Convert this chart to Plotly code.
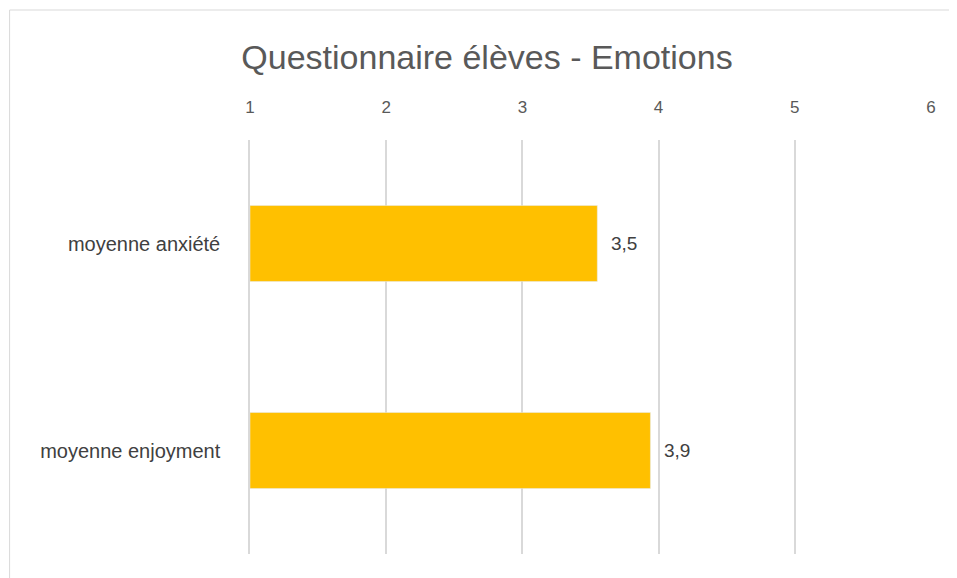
import plotly.graph_objects as go

# Data
categories = ["moyenne anxiété", "moyenne enjoyment"]
values = [3.55, 3.94]
value_labels = ["3,5", "3,9"]
tick_vals = [1, 2, 3, 4, 5, 6]

font_family = "Liberation Sans, Arial"
grey_text = "#595959"

# axis starts at 1, so bars are drawn from base 1
bars = go.Bar(
    x=[v - 1 for v in values],
    y=categories,
    base=1,
    orientation="h",
    marker_color="#FFC000",
    width=0.367,
    text=["  " + t for t in value_labels],
    textposition="outside",
    textfont=dict(size=19, color="#404040", family=font_family),
    cliponaxis=False,
    hoverinfo="skip",
)

fig = go.Figure(data=[bars])

# the page puts the figure 8px in from the corner, margins allow for that
fig.update_layout(
    width=957,
    height=578,
    plot_bgcolor="white",
    paper_bgcolor="white",
    showlegend=False,
    margin=dict(l=242, r=34, t=132, b=32),
    font=dict(family=font_family, color=grey_text),
    title=dict(
        text="Questionnaire élèves - Emotions",
        x=0.348,
        xref="paper",
        xanchor="center",
        y=0.915,
        yref="container",
        yanchor="middle",
        font=dict(size=34, color=grey_text, family=font_family),
    ),
    # outer chart frame
    shapes=[
        dict(
            type="rect",
            xref="paper",
            yref="paper",
            x0=-0.353,
            x1=1.2,
            y0=-0.2,
            y1=1.314,
            line=dict(color="#d9d9d9", width=1),
            layer="below",
        )
    ],
)

fig.update_xaxes(
    side="top",
    range=[1, 6],
    tickvals=tick_vals,
    showgrid=True,
    gridcolor="#d9d9d9",
    gridwidth=1.5,
    zeroline=False,
    showline=False,
    ticks="outside",
    ticklen=19,
    tickcolor="rgba(0,0,0,0)",
    tickfont=dict(size=17, color=grey_text),
)

# left axis line stands in for the gridline at 1
fig.update_yaxes(
    autorange="reversed",
    showgrid=False,
    zeroline=False,
    showline=True,
    linecolor="#d9d9d9",
    linewidth=1.5,
    layer="below traces",
    ticks="outside",
    ticklen=24,
    tickcolor="rgba(0,0,0,0)",
    tickfont=dict(size=20, color="#404040"),
)

fig.write_html("out.html")
